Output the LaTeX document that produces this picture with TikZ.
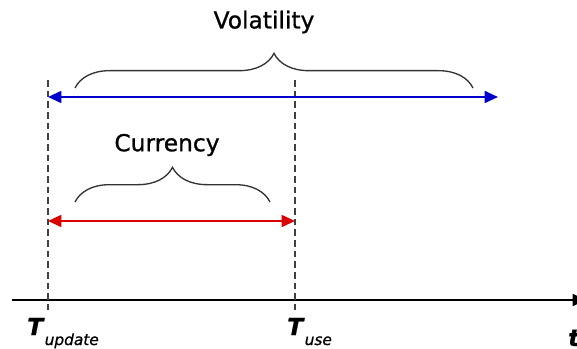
\documentclass[tikz,border=0pt]{standalone}
\usepackage{fontspec}
\setmainfont[FakeBold=0.9]{DejaVu Sans}
\usepackage{tikz}
\usetikzlibrary{arrows.meta, positioning, calc, decorations.pathreplacing}

\newcommand{\timelabel}[2]{\textbf{\textit{#1}}\raisebox{-7.5pt}{\fontsize{11.5}{12}\selectfont\itshape #2}}

\begin{document}
\begin{tikzpicture}[x=0.75pt, y=-0.75pt,
    marker/.style={dash pattern=on 5pt off 3pt, line width=1.1pt, black!75},
    span/.style={{Triangle[length=10pt,width=9pt]}-{Triangle[length=10pt,width=9pt]}, line width=1.3pt},
    curly/.style={decorate, decoration={brace, amplitude=26pt}, line width=1pt, black!80},
    bracelabel/.style={font=\fontsize{17.5}{20}\selectfont},
    ticklabel/.style={font=\fontsize{17.5}{20}\selectfont, anchor=base west, inner sep=0pt}]
  \useasboundingbox (0,0) rectangle (577,349);

  % time axis
  \coordinate (t0) at (12,300);
  \coordinate (tend) at (586,300);
  \draw[line width=1.3pt, -{Triangle[length=10pt,width=9pt]}] (t0) -- (tend);

  % update and use instants
  \coordinate (upd) at (48,300);
  \coordinate (use) at (295,300);
  \draw[marker] ($(upd)+(0,-220)$) -- ($(upd)+(0,10)$);
  \draw[marker] ($(use)+(0,-220)$) -- ($(use)+(0,10)$);

  \node[ticklabel] (lupd) at (27,335) {\timelabel{T}{update}};
  \node[ticklabel] (luse) at (287,335) {\timelabel{T}{use}};
  \node[ticklabel] (lt) at (568,346) {\textbf{\textit{t}}};

  % volatility span
  \coordinate (vl) at (48,97);
  \coordinate (vr) at (498,97);
  \draw[span, blue!80!black] (vl) -- (vr);
  \draw[curly] (75,88) -- (473,88);
  \node[bracelabel] (vol) at (264,22) {Volatility};

  % currency span
  \coordinate (cl) at (48,221);
  \coordinate (cr) at (295,221);
  \draw[span, red!85!black] (cl) -- (cr);
  \draw[curly] (75,202) -- (270,202);
  \node[bracelabel] (cur) at (167,145) {Currency};
\end{tikzpicture}
\end{document}
